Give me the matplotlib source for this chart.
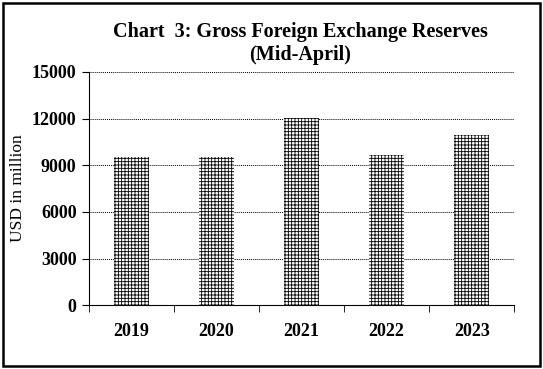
import matplotlib.pyplot as plt
from matplotlib.patches import Rectangle

years = ["2019", "2020", "2021", "2022", "2023"]
reserves = [9510, 9520, 12020, 9660, 10940]
yticks = [0, 3000, 6000, 9000, 12000, 15000]

plt.rcParams['font.family'] = ['Liberation Serif', 'DejaVu Serif']
plt.rcParams['hatch.linewidth'] = 0.6

fig = plt.figure(figsize=(5.43, 3.69), dpi=100)
ax = fig.add_axes([0.164, 0.173, 0.783, 0.632])

x = range(len(years))
ax.bar(x, reserves, width=0.41, color="white", edgecolor="black",
       linewidth=0, hatch="+++++", zorder=3)

ax.set_xlim(-0.5, len(years) - 0.5)
ax.set_ylim(0, 15000)
ax.set_yticks(yticks)
ax.set_yticklabels([str(v) for v in yticks], fontweight="bold", fontsize=13)
ax.set_xticks(x)
ax.set_xticklabels(years, fontweight="bold", fontsize=13)
ax.tick_params(axis="x", length=0, pad=13)
ax.set_xticks([i - 0.5 for i in range(len(years) + 1)], minor=True)
ax.tick_params(axis="x", which="minor", length=5, direction="out")
ax.tick_params(axis="y", length=5, direction="out", pad=4)

for v in yticks[1:]:
    ax.axhline(v, color="black", linestyle=(0, (1, 1)), linewidth=0.7, zorder=1)

for s in ["top", "right"]:
    ax.spines[s].set_visible(False)
ax.spines["left"].set_linewidth(0.8)
ax.spines["bottom"].set_linewidth(0.8)

ax.set_ylabel("USD in million", fontsize=12.5, labelpad=4)
fig.text(0.553, 0.94, "Chart  3: Gross Foreign Exchange Reserves\n(Mid-April)",
         ha="center", va="top", fontsize=14.5, fontweight="bold", linespacing=1.2)

fig.patches.append(Rectangle((0.006, 0.008), 0.988, 0.984, transform=fig.transFigure,
                             fill=False, edgecolor="black", linewidth=1.8))

fig.savefig("out.png", dpi=100)
